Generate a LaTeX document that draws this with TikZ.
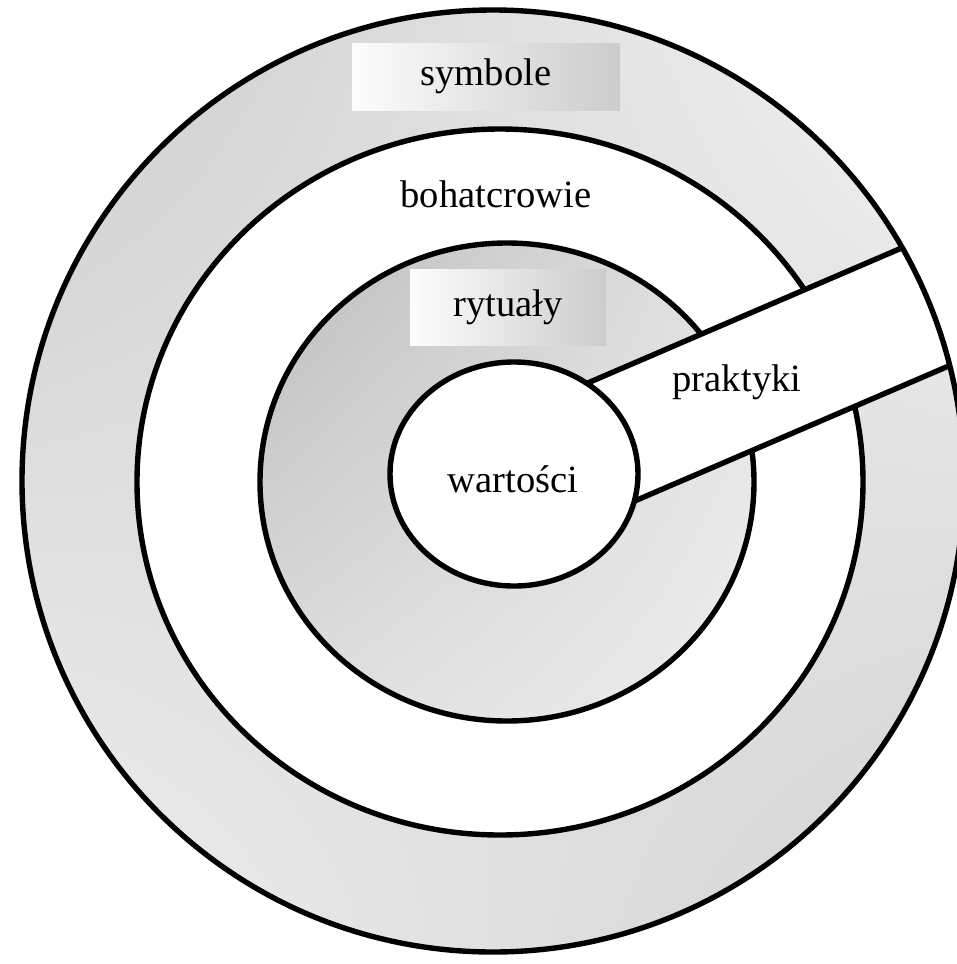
\documentclass[tikz,border=0pt]{standalone}
\usepackage{fontspec}
\setmainfont{Liberation Serif}
\usepackage{tikz}
\usetikzlibrary{shadings}
\tikzset{
  ring/.style={line width=2.7pt},
  band/.style={line width=2.7pt, fill=white},
  txt/.style={font=\fontsize{19.3}{23}\selectfont, inner sep=0pt},
  labelbox/.style={left color=gray!2, right color=gray!40, inner sep=0pt},
  shellshade/.style={upper left=gray!40, upper right=gray!9, lower left=gray!12, lower right=gray!36},
  coreshade/.style={upper left=gray!52, upper right=gray!22, lower left=gray!26, lower right=gray!14}
}

\begin{document}
\begin{tikzpicture}[x=0.5pt, y=-0.5pt]
		\useasboundingbox (0,0) rectangle (957,964);
		\clip (0,0) rectangle (957,964);
		\coordinate (O1) at (493,481);
		\coordinate (O2) at (500,482);
		\coordinate (O3) at (507,482);
		\coordinate (O4) at (514,474);
		\coordinate (B1) at (540,403.5);
		\coordinate (B2) at (1000,205.7);
		\coordinate (B3) at (1000,343.9);
		\coordinate (B4) at (540,541.7);
		% warstwy
		\shade[shellshade] (O1) circle [radius=471];
		\fill[white] (O2) ellipse [x radius=363, y radius=353];
		\shade[coreshade] (O3) ellipse [x radius=247, y radius=239];
		\draw[ring] (O2) ellipse [x radius=363, y radius=353];
		\draw[ring] (O3) ellipse [x radius=247, y radius=239];
		% praktyki
		\begin{scope}
			\clip (O1) circle [radius=471];
			\filldraw[band] (B1)--(B2)--(B3)--(B4)--cycle;
		\end{scope}
		\draw[ring] (O1) circle [radius=471];
		\filldraw[ring, fill=white] (O4) ellipse [x radius=124, y radius=112];
		% napisy
		\node[txt, labelbox, minimum width=134pt, minimum height=33.5pt] (symbole) at (486,76.5) {symbole};
		\node[txt] (bohaterowie) at (496,194) {bohatcrowie};
		\node[txt, labelbox, minimum width=98pt, minimum height=38pt] (rytualy) at (508,307) {rytuały};
		\node[txt] (praktyki) at (737,382) {praktyki};
		\node[txt] (wartosci) at (513,479) {wartości};
	\end{tikzpicture}
\end{document}
